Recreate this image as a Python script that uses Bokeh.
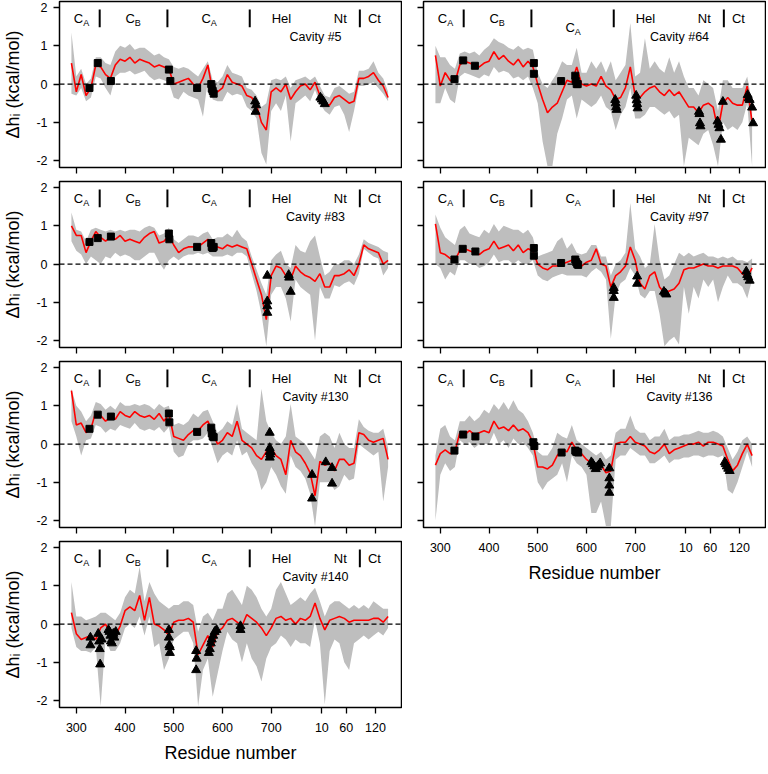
from bokeh.plotting import figure
from bokeh.layouts import row, column
from bokeh.models import Span, FixedTicker
from bokeh.core.properties import value
from bokeh.embed import file_html
from bokeh.resources import INLINE

FONT = "Liberation Sans"

# sequence index (CA/CB/Hel: residue number; Nt/Ct continue after Hel)
seq_index = list(range(290, 941, 10))

tick_pos = [300, 400, 500, 600, 700, 804, 854, 914]
tick_lab = ["300", "400", "500", "600", "700", "10", "60", "120"]

domain_bounds = [348, 487, 656, 882]
sub_main = ["C", "C", "C"]
sub_letters = ["A", "B", "A"]
sub_x = [310, 416, 572]
plain_labels = ["Hel", "Nt", "Ct"]
plain_x = [721, 842, 912]

# ---------------- Cavity #5 ----------------
red_5 = [0.55, -0.2, 0.25, -0.3, -0.1, 0.5, 0.45, 0.25, 0.15, 0.5,
         0.65, 0.6, 0.7, 0.55, 0.65, 0.6, 0.55, 0.45, 0.5, 0.45,
         0.4, 0.0, 0.05, 0.1, 0.15, 0.0, -0.1, 0.15, 0.5, -0.2,
         -0.2, -0.1, 0.25, 0.05, 0.0, -0.05, -0.3, -0.35, -0.55, -1.0,
         -1.2, -0.2, -0.1, -0.2, 0.0, -0.4, -0.2, -0.05, 0.0, -0.15,
         0.05, -0.3, -0.5, -0.55, -0.35, -0.3, -0.4, -0.5, -0.45, 0.15,
         0.15, 0.2, 0.3, 0.1, -0.05, -0.35]
lo_5 = [-0.25, -0.3, -0.1, -0.45, -0.35, 0.2, 0.15, -0.1, -0.3, 0.2,
        0.3, 0.3, 0.35, 0.25, 0.3, 0.35, 0.2, 0.1, 0.15, 0.1,
        0.05, -0.35, -0.4, -0.2, -0.3, -0.35, -0.4, -0.85, 0.1, -0.4,
        -0.45, -0.45, -0.2, -0.3, -0.25, -0.3, -0.6, -0.7, -0.9, -1.8,
        -2.1, -0.7, -0.5, -0.7, -0.3, -1.5, -0.5, -0.4, -0.3, -0.45,
        -0.15, -0.5, -0.7, -0.8, -0.6, -0.55, -0.8, -1.25, -0.7, -0.05,
        -0.05, 0.0, 0.05, -0.1, -0.25, -0.45]
hi_5 = [1.35, 0.2, 0.4, 0.0, 0.15, 0.7, 0.7, 0.55, 0.5, 0.85,
        1.0, 0.95, 1.05, 0.9, 0.95, 0.95, 0.85, 0.75, 0.8, 0.7,
        0.65, 0.45, 0.4, 0.45, 0.4, 0.3, 0.2, 0.4, 0.6, 0.1,
        0.05, 0.2, 0.5, 0.3, 0.25, 0.2, -0.1, -0.15, -0.3, -0.6,
        -0.5, 0.1, 0.15, 0.1, 0.2, -0.1, 0.1, 0.15, 0.2, 0.1,
        0.2, -0.05, -0.3, -0.35, -0.1, -0.05, -0.15, -0.25, -0.2, 0.35,
        0.35, 0.4, 0.6, 0.3, 0.15, -0.2]
sqx_5 = [327, 344, 371, 490, 493, 548, 577, 578, 580, 582]
sqy_5 = [-0.1, 0.55, 0.08, 0.38, 0.08, -0.1, 0.0, -0.12, -0.18, -0.25]
trx_5 = [667, 668, 669, 801, 804, 807, 810]
try_5 = [-0.45, -0.72, -0.55, -0.35, -0.4, -0.45, -0.52]

# ---------------- Cavity #83 ----------------
red_83 = [1.0, 0.75, 0.75, 0.3, 0.6, 0.85, 0.7, 0.6, 0.7, 0.65,
          0.75, 0.6, 0.65, 0.6, 0.55, 0.7, 0.8, 0.85, 0.55, 0.6,
          0.75, 0.5, 0.3, 0.4, 0.45, 0.45, 0.45, 0.55, 0.65, 0.5,
          0.45, 0.4, 0.5, 0.45, 0.5, 0.45, 0.4, 0.0, -0.4, -0.8,
          -1.45, -0.3, -0.05, -0.1, -0.3, -0.4, -0.05, -0.2, -0.3, -0.35,
          -0.45, -0.25, -0.6, -0.6, -0.3, -0.3, -0.25, -0.15, -0.3, 0.0,
          0.5, 0.4, 0.35, 0.3, 0.0, 0.1]
lo_83 = [0.6, 0.35, 0.25, 0.0, 0.2, 0.1, 0.0, 0.2, 0.15, 0.3,
         0.2, 0.25, 0.2, 0.1, 0.1, 0.2, 0.3, 0.3, 0.05, -0.15,
         0.1, 0.2, 0.1, 0.2, 0.25, 0.25, 0.3, 0.25, 0.3, 0.2,
         0.2, 0.2, 0.25, 0.2, 0.3, 0.3, 0.2, -0.25, -0.7, -1.3,
         -2.15, -0.8, -0.6, -0.6, -0.9, -1.5, -0.4, -0.6, -0.7, -0.8,
         -2.0, -0.6, -0.9, -0.9, -0.55, -0.6, -0.5, -0.45, -0.55, -0.25,
         0.4, 0.3, 0.2, 0.15, -0.3, -0.1]
hi_83 = [1.35, 0.9, 0.85, 0.6, 0.9, 0.95, 0.9, 0.85, 0.9, 0.85,
         0.9, 0.85, 0.9, 0.9, 0.85, 0.95, 1.0, 0.95, 0.75, 0.8,
         0.95, 0.65, 0.55, 0.65, 0.75, 0.75, 0.7, 0.8, 0.85, 0.65,
         0.7, 0.7, 0.8, 0.7, 0.9, 0.7, 0.6, 0.2, -0.15, -0.5,
         -0.8, 0.1, 0.25, 0.35, 0.0, -0.1, 0.5, 0.35, 0.3, 0.6,
         0.75, 0.2, -0.3, -0.2, 0.0, 0.0, 0.1, 0.1, 0.0, 0.25,
         0.65, 0.55, 0.5, 0.45, 0.35, 0.3]
sqx_83 = [327, 344, 371, 490, 491, 548, 577, 578, 580, 582]
sqy_83 = [0.58, 0.68, 0.72, 0.8, 0.65, 0.45, 0.55, 0.45, 0.42, 0.45]
trx_83 = [692, 692, 692, 692, 736, 737, 740]
try_83 = [-0.3, -0.97, -1.1, -1.27, -0.28, -0.35, -0.72]

# ---------------- Cavity #130 ----------------
red_130 = [1.4, 0.5, 0.55, 0.3, 0.4, 0.85, 0.75, 0.6, 0.7, 0.65,
           0.85, 0.75, 0.7, 0.85, 0.75, 0.7, 0.75, 0.65, 0.8, 0.6,
           0.8, 0.2, 0.15, 0.1, 0.25, 0.35, 0.35, 0.5, 0.6, 0.3,
           0.0, 0.1, 0.3, 0.2, 0.6, 0.1, 0.0, -0.1, -0.3, -0.4,
           -0.2, -0.1, -0.3, -0.4, -0.8, 0.1, -0.2, -0.3, -0.5, -0.75,
           -1.35, -0.45, -0.55, -0.5, -0.7, -0.4, -0.4, -0.55, -0.5, 0.3,
           0.25, 0.1, 0.05, 0.1, 0.15, -0.4]
lo_130 = [0.6, 0.2, -0.3, 0.1, 0.15, 0.5, 0.45, 0.3, 0.4, 0.35,
          0.5, 0.45, 0.4, 0.55, 0.4, 0.35, 0.4, 0.35, 0.45, 0.3,
          0.45, -0.2, -0.35, -0.3, 0.0, 0.1, 0.1, 0.15, 0.3, -0.1,
          -0.5, -0.3, -0.2, -0.3, 0.1, -0.3, -0.2, -0.5, -0.7, -1.2,
          -1.0, -0.6, -0.8, -1.1, -1.3, -0.3, -0.6, -0.7, -0.9, -1.3,
          -2.15, -1.0, -1.0, -1.0, -1.2, -1.1, -0.8, -0.95, -0.9, 0.0,
          -0.1, -0.2, -0.3, -0.2, -1.5, -0.6]
hi_130 = [1.45, 1.0, 0.85, 0.6, 0.75, 1.1, 1.05, 0.9, 1.0, 0.9,
          1.1, 1.0, 1.0, 1.05, 1.0, 1.05, 1.0, 0.9, 1.05, 0.95,
          1.0, 0.5, 0.55, 0.5, 0.6, 0.8, 0.7, 0.85, 0.9, 0.6,
          0.3, 0.4, 0.6, 0.5, 1.05, 0.4, 0.3, 0.2, 0.1, 1.45,
          0.6, 0.3, 0.1, 0.0, 0.2, 1.05, 0.2, 0.1, 0.0, -0.2,
          -0.4, 0.2, 0.3, 0.2, -0.1, 0.3, 0.0, -0.1, -0.1, 0.65,
          0.45, 0.35, 0.3, 0.3, 0.4, -0.1]
sqx_130 = [327, 344, 371, 490, 491, 548, 577, 578, 580, 582]
sqy_130 = [0.4, 0.77, 0.72, 0.8, 0.57, 0.32, 0.43, 0.28, 0.2, 0.18]
trx_130 = [697, 697, 697, 698, 699, 697, 784, 784, 812, 825, 825]
try_130 = [0.3, -0.1, -0.2, -0.27, -0.2, -0.35, -0.8, -1.42, -0.47, -0.62, -1.03]

# ---------------- Cavity #140 ----------------
red_140 = [0.3, -0.25, -0.4, -0.35, -0.3, -0.4, -0.1, 0.0, -0.25, -0.3,
           -0.05, 0.35, 0.45, 0.35, 0.75, 0.1, 0.7, 0.0, -0.05, -0.15,
           -0.3, 0.05, 0.1, 0.1, 0.15, 0.05, -0.8, -0.55, -0.3, -0.6,
           -0.2, -0.1, 0.1, 0.15, 0.05, -0.05, 0.25, 0.15, 0.05, -0.1,
           -0.3, -0.1, 0.15, 0.2, 0.1, 0.15, 0.0, 0.15, 0.1, 0.2,
           0.55, 0.15, -0.15, 0.1, 0.15, 0.2, 0.15, 0.05, 0.1, 0.1,
           0.1, 0.1, 0.15, 0.15, 0.05, 0.2]
lo_140 = [-0.1, -0.6, -0.7, -0.7, -0.75, -0.6, -2.15, -0.4, -0.7, -0.7,
          -0.5, -0.1, 0.0, -0.1, 0.2, -0.3, 0.2, -0.6, -0.5, -1.2,
          -0.9, -0.4, -0.3, -0.2, -0.2, -0.5, -2.15, -1.2, -0.9, -1.9,
          -1.3, -0.7, -0.2, -0.4, -0.5, -1.0, -0.5, -0.9, -1.1, -1.5,
          -0.9, -0.6, -0.5, -0.3, -0.4, -0.6, -0.4, -0.5, -0.5, -0.6,
          0.1, -0.5, -2.1, -0.7, -0.4, -0.5, -1.0, -1.2, -0.5, -0.4,
          -0.3, -0.4, -0.3, -0.2, -0.3, -0.1]
hi_140 = [1.1, 0.2, 0.2, 0.1, 0.15, 0.2, 0.3, 0.3, 0.2, 0.1,
          0.3, 0.7, 0.9, 0.8, 1.5, 0.6, 1.1, 0.8, 0.6, 0.5,
          0.4, 0.5, 0.5, 0.6, 0.6, 0.5, -0.2, 0.2, 0.3, 0.1,
          0.4, 0.4, 0.8, 0.9, 0.7, 0.5, 1.0, 0.9, 0.7, 0.4,
          0.2, 0.4, 0.9, 1.1, 0.8, 0.5, 0.6, 0.7, 0.6, 0.8,
          0.95, 0.6, 0.2, 0.5, 0.6, 0.6, 0.5, 0.4, 0.5, 0.4,
          0.5, 0.4, 0.6, 0.5, 0.4, 0.4]
sqx_140 = []
sqy_140 = []
trx_140 = [329, 329, 345, 347, 348, 349, 352, 366, 368, 370, 371, 373, 376, 378, 381,
           490, 490, 491, 492, 492, 546, 547, 546, 572, 574, 576, 578, 581, 584, 588, 637, 637]
try_140 = [-0.35, -0.55, -0.25, -0.45, -0.65, -1.05, -0.4, -0.15, -0.2, -0.3, -0.45, -0.5, -0.25, -0.35, -0.2,
           -0.15, -0.35, -0.55, -0.6, -0.75, -0.7, -0.9, -1.2, -0.75, -0.65, -0.5, -0.4, -0.3, -0.2, -0.15, -0.05, -0.15]

# ---------------- Cavity #64 ----------------
red_64 = [0.75, -0.05, 0.3, 0.1, 0.05, 0.5, 0.6, 0.55, 0.5, 0.45,
          0.55, 0.6, 0.85, 0.65, 0.75, 0.6, 0.5, 0.65, 0.45, 0.6,
          0.45, 0.0, -0.4, -0.75, -0.6, -0.5, -0.2, 0.1, 0.05, 0.45,
          0.0, -0.05, 0.0, -0.05, 0.2, -0.05, -0.15, -0.4, -0.35, -0.1,
          0.45, -0.3, -0.35, -0.2, -0.1, -0.05, -0.2, -0.3, -0.15, -0.3,
          -0.2, -0.4, -0.6, -0.6, -0.75, -0.55, -0.5, -0.6, -1.2, -0.5,
          -0.35, -0.5, -0.55, -0.55, -0.05, -1.0]
lo_64 = [-0.5, -0.5, -0.1, -0.4, -0.5, 0.2, 0.3, 0.25, 0.2, 0.15,
         0.25, 0.2, 0.45, 0.3, 0.35, 0.3, 0.15, 0.2, 0.1, 0.2,
         -0.1, -0.5, -1.5, -2.15, -2.15, -1.3, -0.9, -0.4, -0.3, -0.9,
         -0.4, -0.5, -0.6, -0.5, -0.3, -0.6, -0.7, -1.2, -0.8, -0.6,
         -0.1, -0.9, -0.9, -0.8, -0.6, -0.6, -0.7, -0.8, -0.7, -0.9,
         -0.8, -2.15, -1.4, -1.5, -1.6, -1.3, -1.2, -1.6, -2.15, -1.0,
         -1.2, -1.1, -1.2, -1.0, -0.5, -2.15]
hi_64 = [1.0, 0.7, 0.7, 0.5, 0.4, 0.8, 0.85, 0.8, 0.85, 0.75,
         0.9, 1.0, 1.2, 1.1, 1.05, 0.95, 0.9, 1.0, 0.9, 0.95,
         0.9, 0.3, 0.0, -0.1, 0.1, 0.3, 0.6, 0.5, 0.5, 0.95,
         0.3, 0.3, 0.6, 0.4, 0.6, 0.3, 0.6, 0.1, 0.3, 0.5,
         1.6, 0.2, 0.3, 1.2, 0.4, 0.6, 0.4, 0.3, 0.7, 0.3,
         0.6, 0.2, -0.1, -0.1, -0.3, 0.1, 0.0, -0.1, -0.7, 0.1,
         0.1, -0.1, -0.1, -0.1, 0.2, -0.5]
sqx_64 = [329, 347, 371, 492, 492, 548, 577, 578, 580, 582]
sqy_64 = [0.13, 0.62, 0.48, 0.55, 0.27, 0.08, 0.22, 0.08, 0.0, 0.0]
trx_64 = [659, 660, 661, 662, 702, 703, 704, 705, 831, 832, 833, 834,
          869, 871, 873, 876, 880, 931, 933, 935, 940, 942]
try_64 = [-0.41, -0.5, -0.6, -0.67, -0.3, -0.42, -0.52, -0.63, -0.72, -0.78, -1.02, -1.1,
          -0.97, -1.06, -1.15, -1.45, -0.46, -0.28, -0.37, -0.41, -0.61, -1.02]

# ---------------- Cavity #97 ----------------
red_97 = [1.05, 0.3, 0.25, 0.15, 0.1, 0.35, 0.4, 0.35, 0.3, 0.25,
          0.35, 0.4, 0.6, 0.4, 0.45, 0.5, 0.35, 0.5, 0.3, 0.4,
          0.35, 0.0, -0.1, -0.15, -0.05, -0.05, 0.0, 0.05, 0.1, 0.0,
          -0.05, 0.05, 0.1, 0.4, 0.0, -0.05, -0.6, -0.3, -0.2, -0.05,
          0.45, 0.1, -0.5, -0.65, -0.3, -0.2, -0.6, -0.75, -0.7, -0.65,
          -0.5, -0.15, -0.1, -0.1, -0.05, 0.0, -0.05, -0.05, -0.1, -0.05,
          -0.05, -0.05, -0.1, -0.25, -0.35, -0.1]
lo_97 = [0.0, -0.1, -0.4, -0.2, -0.3, 0.1, 0.1, 0.0, 0.0, -0.1,
         -0.05, 0.05, 0.25, 0.05, 0.1, 0.1, 0.0, 0.1, 0.0, 0.0,
         0.1, -0.3, -0.4, -0.45, -0.35, -0.3, -0.25, -0.3, -0.3, -0.3,
         -0.3, -0.35, -0.2, -0.1, -0.2, -0.4, -1.95, -0.8, -0.5, -0.4,
         -0.1, -0.3, -0.8, -0.9, -0.7, -0.7, -1.3, -2.15, -2.0, -1.9,
         -2.1, -0.6, -1.3, -0.6, -0.9, -0.4, -0.6, -0.4, -1.0, -0.6,
         -0.3, -0.5, -0.5, -0.6, -0.9, -0.4]
hi_97 = [1.3, 0.95, 0.7, 0.6, 0.5, 0.9, 1.0, 0.8, 0.75, 0.7,
         0.9, 0.8, 1.05, 0.85, 1.0, 0.95, 0.9, 0.9, 0.8, 0.9,
         0.7, 0.2, 0.25, 0.3, 0.35, 0.6, 0.7, 0.4, 0.55, 0.3,
         0.25, 0.3, 0.5, 0.5, 0.2, 0.2, -0.3, 0.0, 0.1, 0.3,
         1.6, 0.4, 0.2, -0.1, 0.0, 1.05, 0.1, -0.4, -0.3, 0.0,
         0.3, 0.2, 0.3, 0.2, 0.25, 0.3, 0.2, 0.2, 0.15, 0.2,
         0.15, 0.2, 0.1, 0.1, 0.05, 0.15]
sqx_97 = [329, 346, 372, 492, 492, 548, 577, 579, 581, 583]
sqy_97 = [0.12, 0.4, 0.33, 0.42, 0.22, 0.03, 0.12, 0.05, 0.0, -0.02]
trx_97 = [656, 656, 656, 704, 704, 759, 762, 764, 928, 930, 932, 935]
try_97 = [-0.62, -0.7, -0.88, -0.32, -0.51, -0.72, -0.76, -0.79, -0.19, -0.28, -0.34, -0.43]

# ---------------- Cavity #136 ----------------
red_136 = [-0.55, -0.25, -0.15, -0.25, -0.2, 0.3, 0.25, 0.35, 0.25, 0.3,
           0.35, 0.3, 0.6, 0.4, 0.45, 0.35, 0.5, 0.35, 0.4, 0.3,
           0.05, -0.6, -0.6, -0.65, -0.55, -0.3, -0.15, -0.2, 0.05, -0.15,
           -0.25, -0.4, -0.5, -0.6, -0.55, -0.75, -0.7, 0.0, 0.05, 0.05,
           0.2, 0.05, 0.0, -0.05, -0.2, -0.25, -0.15, 0.0, -0.25, -0.15,
           -0.1, -0.05, 0.0, 0.0, 0.05, -0.05, 0.05, 0.05, 0.0, -0.05,
           -0.4, -0.7, -0.55, -0.25, 0.0, -0.3]
lo_136 = [-2.0, -0.8, -0.5, -0.7, -0.6, 0.1, 0.0, 0.05, -0.1, 0.0,
          0.0, 0.0, 0.3, 0.0, 0.1, -0.1, 0.15, 0.0, 0.05, -0.1,
          -0.3, -1.0, -1.2, -1.0, -0.9, -0.8, -0.5, -1.0, -0.3, -0.5,
          -0.6, -0.8, -1.8, -1.8, -1.5, -2.15, -2.15, -0.4, -0.3, -0.3,
          -0.1, -0.2, -0.3, -0.3, -0.5, -0.5, -0.4, -0.3, -0.5, -0.4,
          -0.4, -0.35, -0.35, -0.3, -0.3, -0.35, -0.3, -0.3, -0.35, -0.3,
          -1.2, -1.3, -1.0, -0.6, -0.2, -0.6]
hi_136 = [-0.3, 0.4, 0.5, 0.2, 0.1, 0.6, 0.6, 0.75, 0.6, 0.7,
          0.9, 0.8, 1.05, 0.9, 1.1, 0.9, 1.15, 0.9, 0.8, 0.6,
          0.3, -0.2, -0.3, -0.3, -0.1, 0.3, 0.2, 0.15, 0.5, 0.1,
          0.0, -0.1, -0.2, -0.3, -0.2, -0.4, -0.3, 0.3, 0.4, 0.4,
          0.75, 0.4, 0.3, 0.3, 0.1, 0.2, 0.2, 0.4, 0.1, 0.2,
          0.2, 0.25, 0.25, 0.3, 0.35, 0.3, 0.3, 0.35, 0.3, 0.2,
          -0.1, -0.4, -0.2, 0.1, 0.2, 0.0]
sqx_136 = [329, 347, 372, 491, 493, 549, 577, 579, 581, 583]
sqy_136 = [-0.17, 0.25, 0.2, 0.05, -0.05, -0.22, -0.17, -0.2, -0.2, -0.22]
trx_136 = [610, 613, 616, 619, 622, 625, 628, 647, 647, 647, 647, 884, 886, 888, 891, 894]
try_136 = [-0.47, -0.52, -0.58, -0.65, -0.6, -0.55, -0.5, -0.63, -0.89, -1.08, -1.27,
           -0.47, -0.52, -0.58, -0.64, -0.7]


def hide_labels(ax):
    ax.major_label_text_font_size = "1px"
    ax.major_label_text_color = None
    ax.major_label_text_alpha = 0
    ax.major_label_standoff = 0


def make_panel(cav, red, lo, hi, sqx, sqy, trx, tryy, left_col, first, bottom, ca_low=False):
    p = figure(frame_width=342, frame_height=166,
               x_range=(265.5, 967.5), y_range=(-2.18, 2.16),
               output_backend="svg", toolbar_location=None,
               min_border_left=55 if left_col else 21, min_border_right=1,
               min_border_top=1,
               min_border_bottom=50 if bottom else 13)
    p.outline_line_color = "black"
    p.outline_line_width = 1.5
    p.grid.visible = False
    p.background_fill_color = "white"
    p.border_fill_color = "white"

    p.xaxis.ticker = FixedTicker(ticks=tick_pos)
    p.xaxis.major_label_overrides = {t: l for t, l in zip(tick_pos, tick_lab)}
    p.yaxis.ticker = FixedTicker(ticks=[-2, -1, 0, 1, 2])
    p.yaxis.major_label_overrides = {-2: "-2", -1: "-1", 0: "0", 1: "1", 2: "2"}
    for ax in (p.xaxis[0], p.yaxis[0]):
        ax.axis_line_color = None
        ax.major_tick_in = 0
        ax.major_tick_out = 6
        ax.major_tick_line_width = 1.3
        ax.major_tick_line_color = "black"
        ax.minor_tick_line_color = None
        ax.major_label_text_font = FONT
        ax.major_label_text_font_size = "12.5px"
        ax.major_label_text_color = "black"
    if bottom:
        p.xaxis.major_label_standoff = 9
        p.xaxis.axis_label = "Residue number"
        p.xaxis.axis_label_text_font = FONT
        p.xaxis.axis_label_text_font_size = "18px"
        p.xaxis.axis_label_text_font_style = "normal"
        p.xaxis.axis_label_text_color = "black"
        p.xaxis.axis_label_standoff = 8
    else:
        hide_labels(p.xaxis[0])
    if left_col:
        p.yaxis.major_label_standoff = 6
        p.yaxis.axis_label = "Δhᵢ (kcal/mol)"
        p.yaxis.axis_label_text_font = FONT
        p.yaxis.axis_label_text_font_size = "18px"
        p.yaxis.axis_label_text_font_style = "normal"
        p.yaxis.axis_label_text_color = "black"
        p.yaxis.axis_label_standoff = 10
    else:
        hide_labels(p.yaxis[0])

    p.varea(x=seq_index, y1=lo, y2=hi, fill_color="#BEBEBE", fill_alpha=1.0)
    p.add_layout(Span(location=0, dimension="width", line_color="black",
                      line_width=1.3, line_dash="5 3"))
    p.line(seq_index, red, line_color="red", line_width=1.6)
    if sqx:
        p.scatter(sqx, sqy, marker="square", size=7, color="black")
    if trx:
        p.scatter(trx, tryy, marker="triangle", size=9, color="black")

    # domain separators and labels
    n = len(domain_bounds)
    p.segment(x0=domain_bounds, y0=[1.49] * n, x1=domain_bounds, y1=[1.95] * n,
              line_color="black", line_width=2)
    sub_y = [1.71, 1.71, 1.48 if ca_low else 1.71]
    p.text(x=sub_x, y=sub_y, text=sub_main, text_font=value(FONT), text_font_size="13px",
           text_align="right", text_baseline="middle", x_offset=2, text_color="black")
    p.text(x=sub_x, y=sub_y, text=sub_letters, text_font=value(FONT), text_font_size="9px",
           text_align="left", text_baseline="middle", x_offset=2, y_offset=4, text_color="black")
    p.text(x=plain_x, y=[1.71] * len(plain_x), text=plain_labels, text_font=value(FONT),
           text_font_size="13px", text_align="center", text_baseline="middle", text_color="black")
    p.text(x=[791], y=[1.22], text=["Cavity #" + cav], text_font=value(FONT),
           text_font_size="12.5px", text_align="center", text_baseline="middle", text_color="black")
    return p


p5 = make_panel("5", red_5, lo_5, hi_5, sqx_5, sqy_5, trx_5, try_5, True, True, False)
p83 = make_panel("83", red_83, lo_83, hi_83, sqx_83, sqy_83, trx_83, try_83, True, False, False)
p130 = make_panel("130", red_130, lo_130, hi_130, sqx_130, sqy_130, trx_130, try_130, True, False, False)
p140 = make_panel("140", red_140, lo_140, hi_140, sqx_140, sqy_140, trx_140, try_140, True, False, True)
p64 = make_panel("64", red_64, lo_64, hi_64, sqx_64, sqy_64, trx_64, try_64, False, True, False, ca_low=True)
p97 = make_panel("97", red_97, lo_97, hi_97, sqx_97, sqy_97, trx_97, try_97, False, False, False)
p136 = make_panel("136", red_136, lo_136, hi_136, sqx_136, sqy_136, trx_136, try_136, False, False, True)

layout = row(column(p5, p83, p130, p140), column(p64, p97, p136))

open("out.html", "w").write(file_html(layout, INLINE))
